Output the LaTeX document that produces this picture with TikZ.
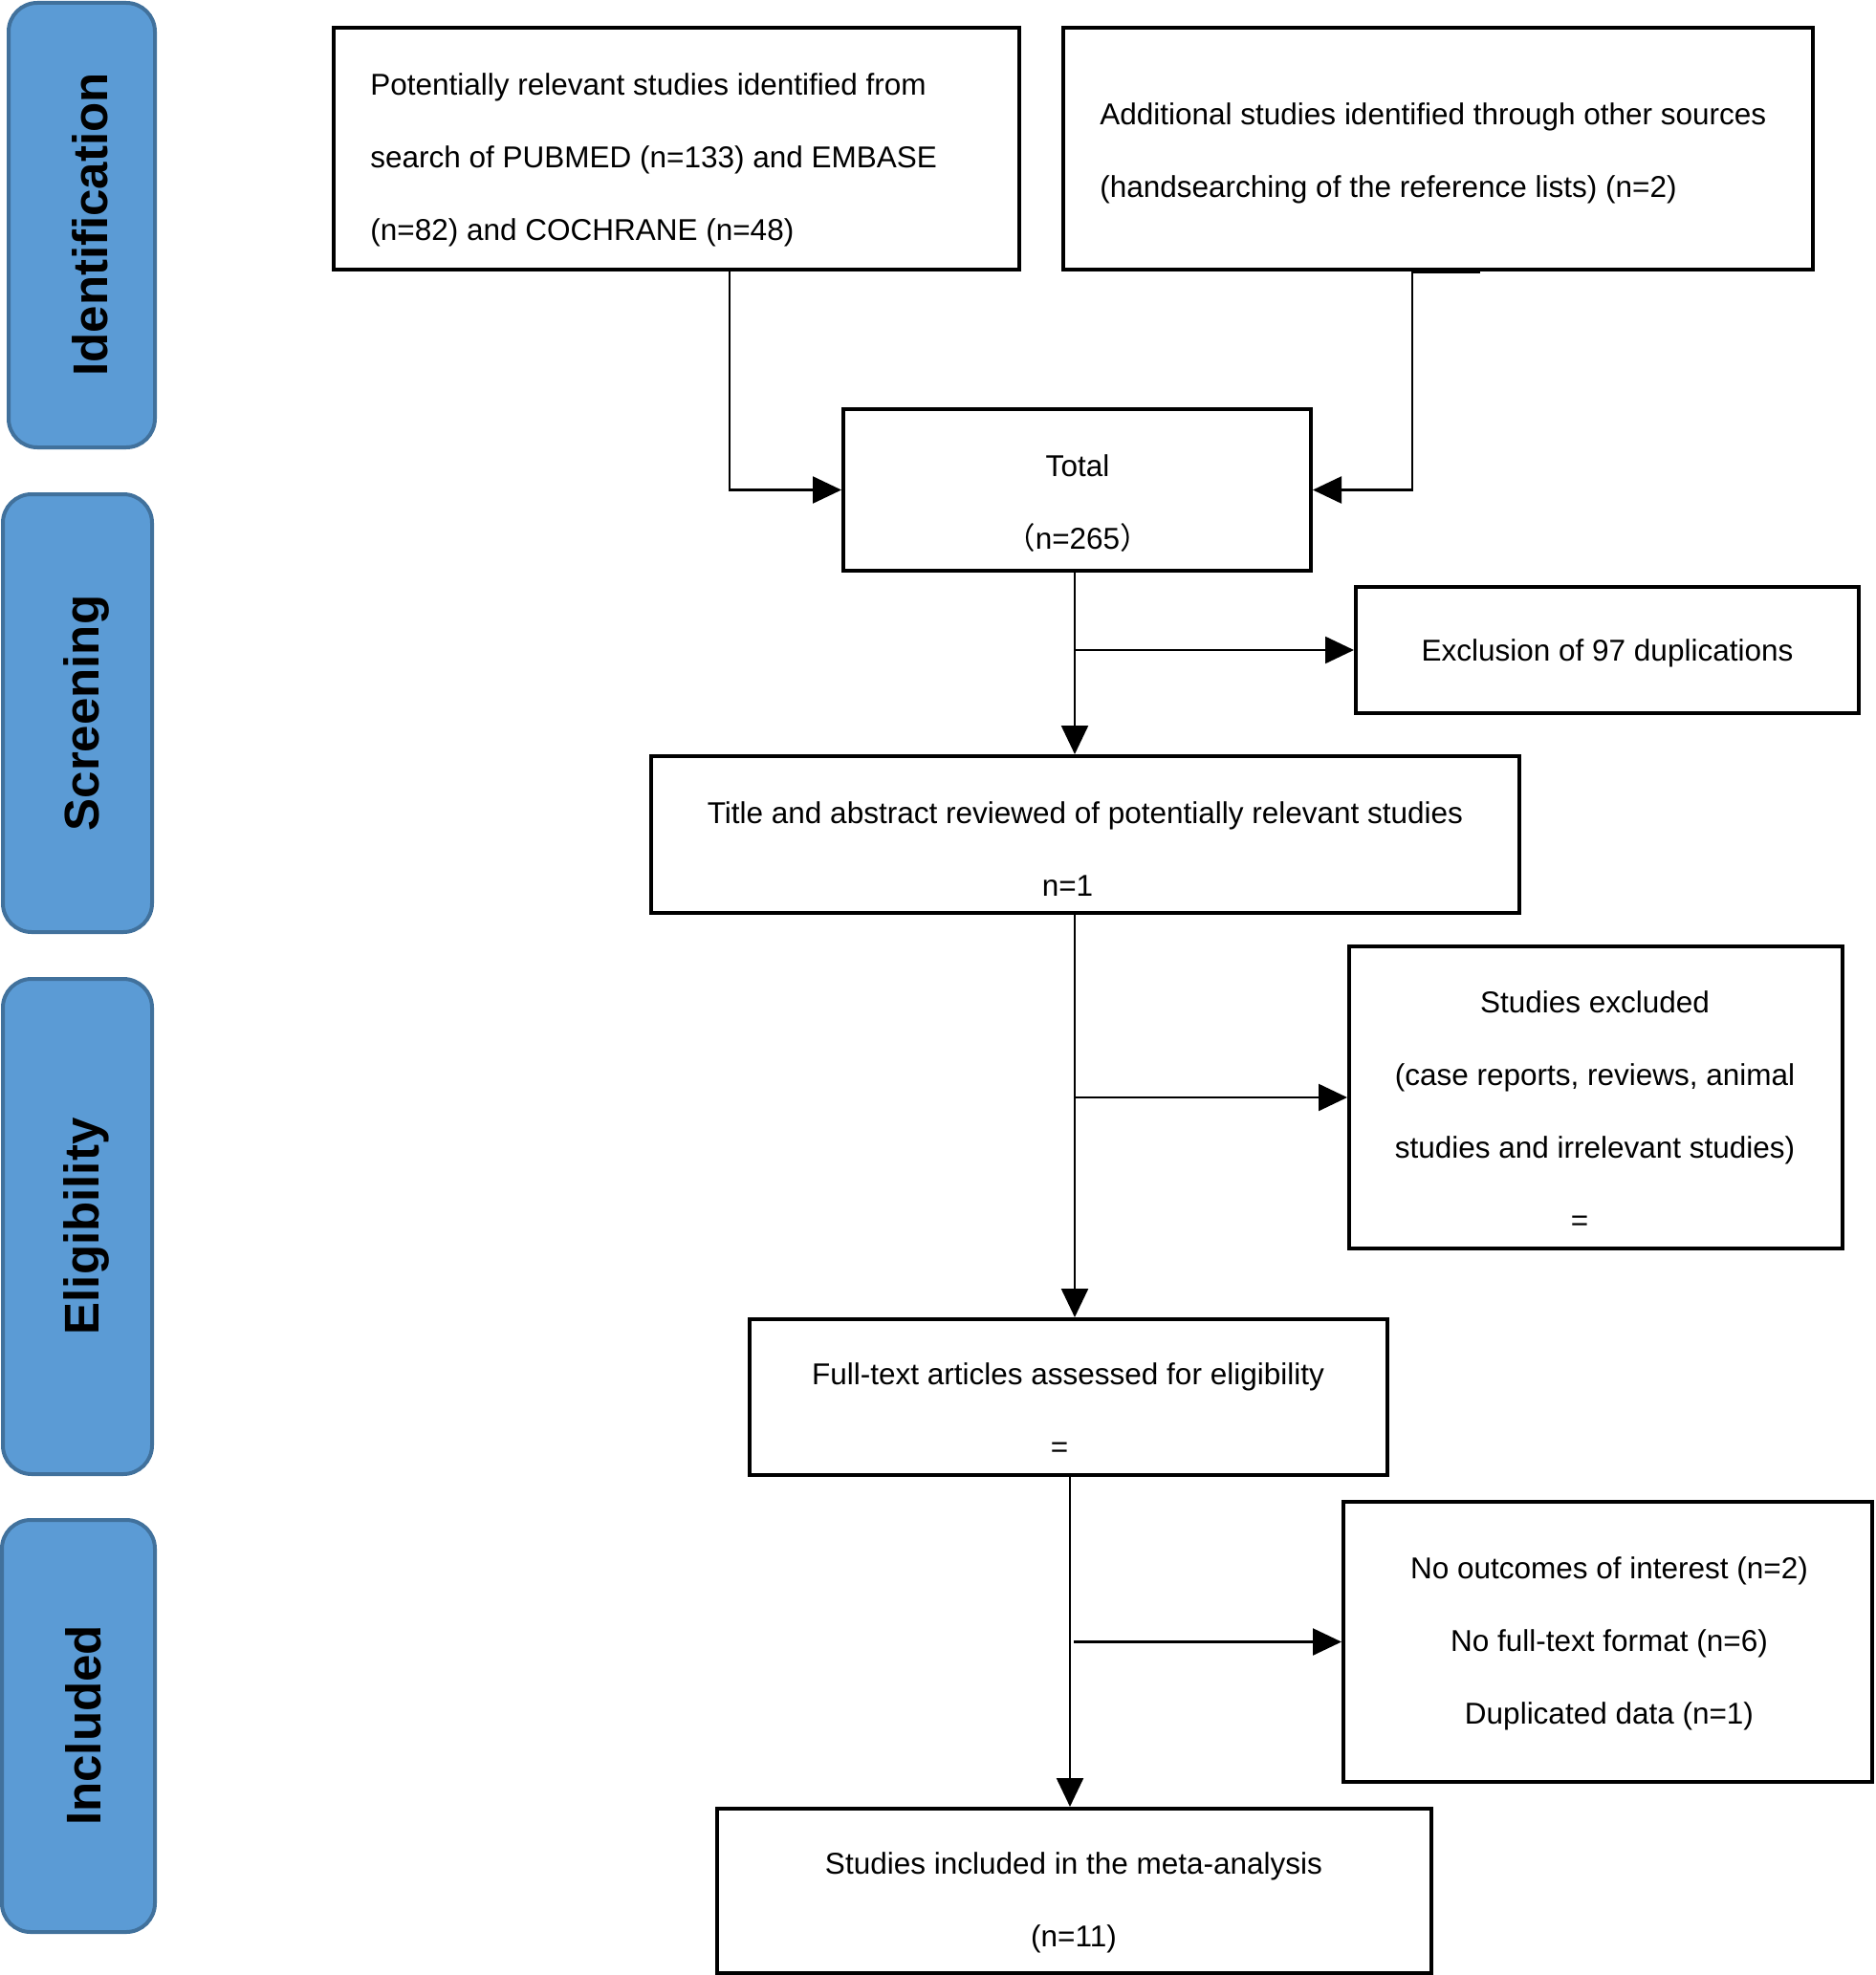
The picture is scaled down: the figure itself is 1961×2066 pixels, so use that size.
\documentclass[tikz,border=0pt]{standalone}
\usepackage{fontspec}
\setmainfont{Liberation Sans}
\newfontfamily\cjk{Noto Sans CJK SC}
\usetikzlibrary{arrows.meta}
\definecolor{sidefill}{HTML}{5B9BD5}
\definecolor{sidedraw}{HTML}{41719C}
\begin{document}
\begin{tikzpicture}[x=0.5pt,y=-0.5pt,
  box/.style={draw=black,line width=2pt,rectangle,inner sep=0pt},
  txt/.style={inner sep=0pt,font=\fontsize{15.75pt}{38pt}\selectfont},
  side/.style={draw=sidedraw,fill=sidefill,line width=2pt,rounded corners=15pt,inner sep=0pt},
  sidelabel/.style={rotate=90,anchor=base,inner sep=0pt,font=\bfseries\fontsize{25.5pt}{30pt}\selectfont},
  conn/.style={draw=black,line width=1.2pt,-{Triangle[length=15pt,width=14pt]}},
  tickline/.style={draw=black,line width=1pt}]
\useasboundingbox (0,0) rectangle (1961,2066);
% side bars
\node[side,minimum width=76.5pt,minimum height=232.5pt] (s1) at (85.5,235.5) {};
\node[side,minimum width=78pt,minimum height=229pt] (s2) at (81,746) {};
\node[side,minimum width=78pt,minimum height=259pt] (s3) at (81,1283) {};
\node[side,minimum width=80pt,minimum height=215.5pt] (s4) at (82,1805.5) {};
\node[sidelabel] (l1) at (112,235) {Identification};
\node[sidelabel] (l2) at (103,746) {Screening};
\node[sidelabel] (l3) at (103,1283) {Eligibility};
\node[sidelabel] (l4) at (105,1805) {Included};
% boxes
\node[box,minimum width=358.5pt,minimum height=126.5pt] (b1) at (707.5,155.5) {};
\node[box,minimum width=392pt,minimum height=126.5pt] (b2) at (1504,155.5) {};
\node[box,minimum width=244.5pt,minimum height=84.5pt] (total) at (1126.5,512.5) {};
\node[box,minimum width=263pt,minimum height=66pt] (excl) at (1681,680) {};
\node[box,minimum width=454pt,minimum height=82pt] (title) at (1135,873) {};
\node[box,minimum width=258pt,minimum height=158pt] (sexcl) at (1669,1148) {};
\node[box,minimum width=333.5pt,minimum height=81.5pt] (full) at (1117.5,1461.5) {};
\node[box,minimum width=276.5pt,minimum height=146.5pt] (nout) at (1681.5,1717.5) {};
\node[box,minimum width=373.5pt,minimum height=86pt] (incl) at (1123.5,1978) {};
% texts
\node[txt,align=left,anchor=west] (t1) at (387,167) {Potentially relevant studies identified from\\search of PUBMED (n=133) and EMBASE\\(n=82) and COCHRANE (n=48)};
\node[txt,align=left,anchor=west] (t2) at (1150,160.5) {Additional studies identified through other sources\\(handsearching of the reference lists) (n=2)};
\node[txt,align=center] (t3) at (1127,526.5) {Total\\{\cjk （}n=265{\cjk ）}};
\node[txt,align=center] (t4) at (1681,683) {Exclusion of 97 duplications};
\node[txt,align=center] (t5) at (1135,888) {Title and abstract reviewed of potentially relevant studies\\n=1\rule{18.5pt}{0pt}};
\node[txt,align=center] (t6) at (1668,1162) {Studies excluded\\(case reports, reviews, animal\\studies and irrelevant studies)\\=\rule{16pt}{0pt}};
\node[txt,align=center] (t7) at (1117,1475) {Full-text articles assessed for eligibility\\=\rule{9pt}{0pt}};
\node[txt,align=center] (t8) at (1683,1719) {No outcomes of interest (n=2)\\No full-text format (n=6)\\Duplicated data (n=1)};
\node[txt,align=center] (t9) at (1123,1990) {Studies included in the meta-analysis\\(n=11)};
% helper coordinates
\coordinate (k1) at (763,514);
\coordinate (k2) at (1477,517);
\coordinate (k3) at (1124,0);
\coordinate (k4) at (1119,0);
\coordinate (k5) at (1123,0);
\coordinate (k6) at (1548,284.5);
% connectors
\draw[conn] (k1 |- b1.south) |- (total.west);
\draw[conn] (k2 |- b2.south) |- (total.east);
\draw[tickline] (k2 |- k6) -- (k6);
\draw[conn] (k3 |- total.south) -- (k3 |- title.north);
\draw[conn] (k3 |- excl.west) -- (excl.west);
\draw[conn] (k3 |- title.south) -- (k3 |- full.north);
\draw[conn] (k3 |- sexcl.west) -- (sexcl.west);
\draw[conn] (k4 |- full.south) -- (k4 |- incl.north);
\draw[conn] (k5 |- nout.west) -- (nout.west);
\end{tikzpicture}
\end{document}
